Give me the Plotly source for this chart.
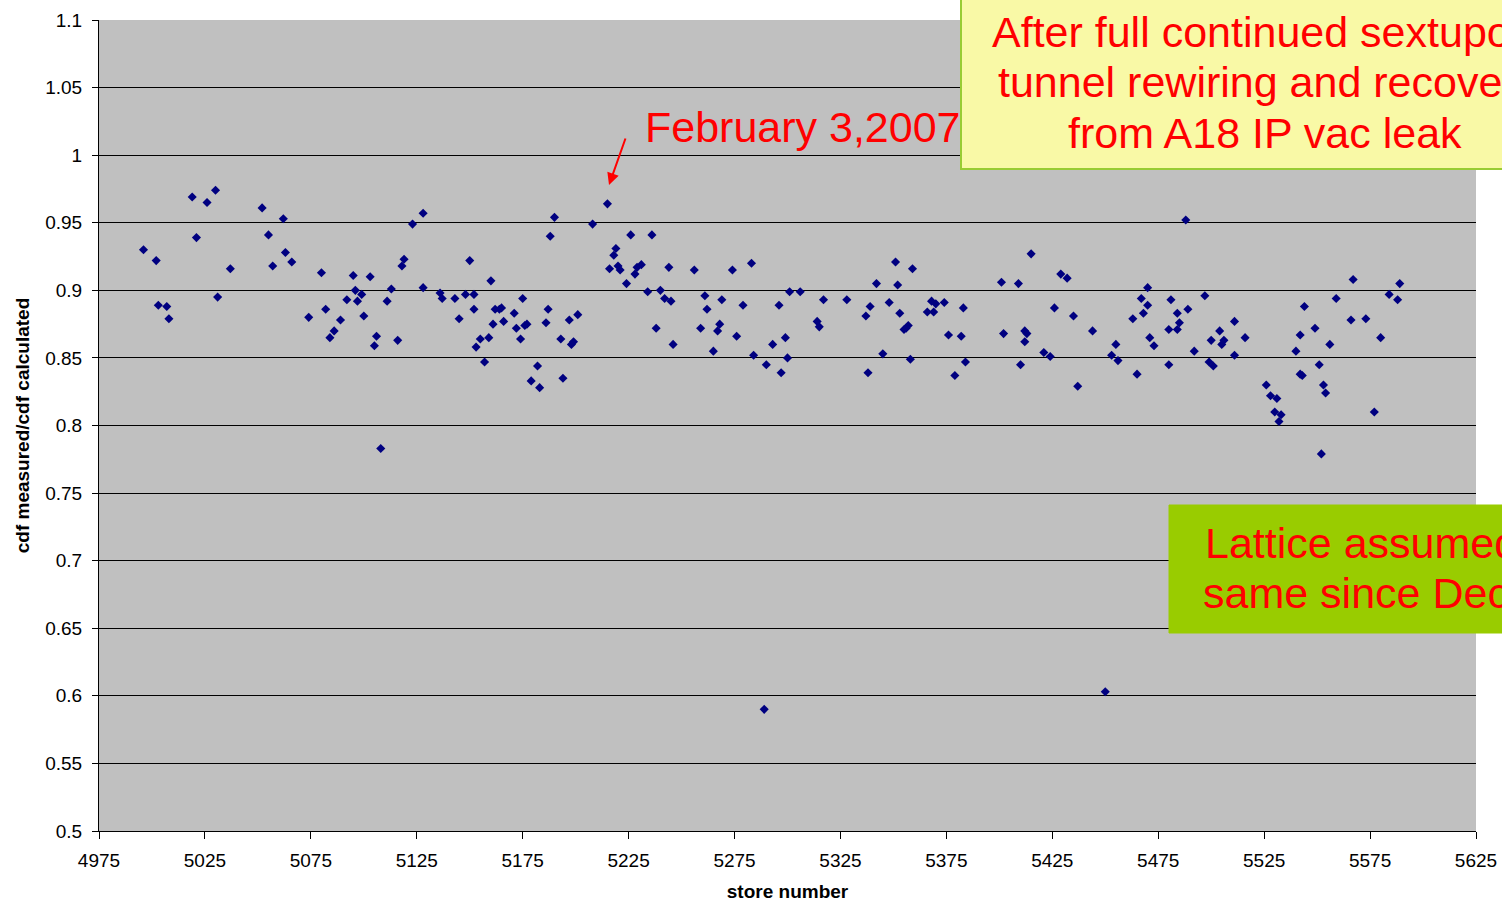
import plotly.graph_objects as go

# ---- data ----
store = [
    4996, 5002, 5003, 5007, 5008, 5019, 5021, 5026, 5030, 5031, 5037, 5052, 5055, 5057, 5062, 5063,
    5066, 5074, 5080, 5082, 5084, 5086, 5089, 5092,
    5095, 5096, 5097, 5099, 5100, 5103, 5105, 5106, 5108, 5111, 5113, 5116, 5118, 5119, 5123, 5128,
    5128, 5136, 5137, 5143, 5145, 5148, 5150, 5152, 5152, 5153, 5155, 5157, 5159, 5160, 5161, 5162,
    5164, 5165, 5166, 5171, 5172, 5174, 5175, 5176, 5177, 5179, 5182, 5183, 5186, 5187, 5188, 5190,
    5193, 5194, 5197, 5198, 5199, 5201, 5208, 5215, 5216, 5218, 5219, 5220, 5221, 5224, 5226, 5228,
    5229, 5231, 5234, 5236, 5238, 5240, 5242, 5244, 5245, 5246, 5256, 5259, 5261, 5262, 5265, 5267,
    5268, 5269, 5274, 5276, 5279, 5283, 5284, 5290, 5289,
    5293, 5296, 5297, 5299, 5300, 5301, 5306, 5314, 5315, 5317, 5328, 5337, 5338, 5339, 5342, 5345,
    5348, 5351, 5352, 5353, 5355, 5356, 5357, 5358, 5359, 5366, 5368, 5369, 5370, 5374, 5376, 5379,
    5382, 5383, 5384,
    5401, 5402, 5409, 5410, 5412, 5412, 5413, 5415, 5421, 5424, 5426, 5429, 5432, 5435, 5437, 5444,
    5450, 5453, 5455, 5456, 5463, 5465, 5467, 5468, 5470, 5470, 5471, 5473, 5480, 5480, 5481, 5484,
    5484, 5485, 5488, 5489,
    5492, 5497, 5499, 5500, 5501, 5504, 5505, 5506, 5511, 5511, 5516, 5526, 5528, 5531, 5530, 5533,
    5532, 5540, 5542, 5542, 5543, 5544, 5549, 5551, 5552, 5553, 5554, 5556, 5559, 5566, 5567, 5573,
    5577, 5580, 5584, 5588, 5589,
]
ratio = [
    0.930, 0.922, 0.889, 0.888, 0.879, 0.969, 0.939, 0.965, 0.974, 0.895, 0.916, 0.961, 0.941, 0.918, 0.953, 0.928,
    0.921, 0.880, 0.913, 0.886, 0.865, 0.870, 0.878, 0.893,
    0.911, 0.900, 0.892, 0.897, 0.881, 0.910, 0.859, 0.866, 0.783, 0.892, 0.901, 0.863, 0.918, 0.923, 0.949, 0.957,
    0.902, 0.898, 0.894, 0.894, 0.879, 0.897, 0.922, 0.897, 0.886, 0.858, 0.864, 0.847, 0.865, 0.907, 0.875, 0.886,
    0.886, 0.887, 0.877, 0.883, 0.872, 0.864, 0.894, 0.874, 0.875, 0.833, 0.844, 0.828, 0.876, 0.886, 0.940, 0.954,
    0.864, 0.835, 0.878, 0.860, 0.862, 0.882, 0.949, 0.964, 0.916, 0.926, 0.931, 0.918, 0.915, 0.905, 0.941, 0.912,
    0.917, 0.919, 0.899, 0.941, 0.872, 0.900, 0.894, 0.917, 0.892, 0.860, 0.915, 0.872, 0.896, 0.886, 0.855, 0.870,
    0.875, 0.893, 0.915, 0.866, 0.889, 0.920, 0.852, 0.845, 0.590,
    0.860, 0.889, 0.839, 0.865, 0.850, 0.899, 0.899, 0.877, 0.873, 0.893, 0.893, 0.881, 0.839, 0.888, 0.905, 0.853,
    0.891, 0.921, 0.904, 0.883, 0.871, 0.872, 0.874, 0.849, 0.916, 0.884, 0.892, 0.884, 0.890, 0.891, 0.867, 0.837,
    0.866, 0.887, 0.847,
    0.906, 0.868, 0.905, 0.845, 0.862, 0.870, 0.868, 0.927, 0.854, 0.851, 0.887, 0.912, 0.909, 0.881, 0.829, 0.870,
    0.603, 0.852, 0.860, 0.848, 0.879, 0.838, 0.894, 0.883, 0.902, 0.889, 0.865, 0.859, 0.845, 0.871, 0.893, 0.883,
    0.871, 0.876, 0.952, 0.886,
    0.855, 0.896, 0.847, 0.863, 0.844, 0.870, 0.860, 0.863, 0.877, 0.852, 0.865, 0.830, 0.822, 0.820, 0.810, 0.808,
    0.803, 0.855, 0.867, 0.838, 0.837, 0.888, 0.872, 0.845, 0.779, 0.830, 0.824, 0.860, 0.894, 0.878, 0.908, 0.879,
    0.810, 0.865, 0.897, 0.893, 0.905,
]
x_ticks = [4975, 5025, 5075, 5125, 5175, 5225, 5275, 5325, 5375, 5425, 5475, 5525, 5575, 5625]
y_ticks = [0.5, 0.55, 0.6, 0.65, 0.7, 0.75, 0.8, 0.85, 0.9, 0.95, 1.0, 1.05, 1.1]
y_tick_text = ["0.5", "0.55", "0.6", "0.65", "0.7", "0.75", "0.8", "0.85", "0.9", "0.95", "1", "1.05", "1.1"]
x_title = "store number"
y_title = "cdf measured/cdf calculated"
date_label = "February 3,2007"
yellow_lines = ["After full continued sextupole", "tunnel rewiring and recovery", "from A18 IP vac leak"]
green_lines = ["Lattice assumed", "same since Dec"]

# ---- layout geometry (screen pixels; body margin removed by post_script) ----
W, H = 1502, 902
L, R, T, B = 99, 1476, 20, 831
FONT = "Liberation Sans, Arial, sans-serif"


def px(xp):
    return (xp - L) / (R - L)


def py(yp):
    return (B - yp) / (B - T)


fig = go.Figure()
fig.add_trace(go.Scatter(
    x=store, y=ratio, mode="markers",
    marker=dict(symbol="diamond", size=7, color="#000080", line=dict(width=0)),
    showlegend=False,
))

shapes = [
    dict(type="rect", xref="paper", yref="paper", x0=px(961), x1=px(1620), y0=py(169), y1=py(-20),
         fillcolor="#F9F9A6", line=dict(color="#99CC33", width=2), layer="above"),
    dict(type="rect", xref="paper", yref="paper", x0=px(1169), x1=px(1620), y0=py(633), y1=py(505),
         fillcolor="#99CC00", line=dict(color="#99CC00", width=1), layer="above"),
]

red = "#FF0000"
annotations = [
    dict(xref="paper", yref="paper", x=px(643), y=py(127), xanchor="left", yanchor="middle",
         text=date_label, showarrow=False, font=dict(family=FONT, size=43, color=red)),
    dict(xref="paper", yref="paper", x=px(609), y=py(185), text="", showarrow=True,
         ax=17, ay=-48, arrowhead=2, arrowsize=1.2, arrowwidth=2, arrowcolor=red),
]
for xp, yp, t in zip([990, 996, 1066], [32, 82, 133], yellow_lines):
    annotations.append(dict(xref="paper", yref="paper", x=px(xp), y=py(yp), xanchor="left",
                            yanchor="middle", text=t, showarrow=False,
                            font=dict(family=FONT, size=43, color=red)))
for xp, yp, t in zip([1203, 1201], [543, 593], green_lines):
    annotations.append(dict(xref="paper", yref="paper", x=px(xp), y=py(yp), xanchor="left",
                            yanchor="middle", text=t, showarrow=False,
                            font=dict(family=FONT, size=43, color=red)))

fig.update_layout(
    width=W, height=H,
    margin=dict(l=L, r=W - R, t=T, b=H - B, pad=0),
    paper_bgcolor="white", plot_bgcolor="#C0C0C0",
    font=dict(family=FONT, size=19, color="black"),
    shapes=shapes, annotations=annotations,
    xaxis=dict(range=[4975, 5625], tickvals=x_ticks, ticks="outside", ticklen=7, tickcolor="black",
               showline=True, linecolor="black", linewidth=1, showgrid=False, zeroline=False,
               automargin=False, tickfont=dict(size=19), ticklabelstandoff=5,
               title=dict(text="<b>" + x_title + "</b>", font=dict(size=19), standoff=22)),
    yaxis=dict(range=[0.5, 1.1], tickvals=y_ticks, ticktext=y_tick_text, ticks="outside", ticklen=6,
               tickcolor="black", showline=True, linecolor="black", linewidth=1,
               showgrid=True, gridcolor="black", gridwidth=1, zeroline=False,
               automargin=False, tickfont=dict(size=19), ticklabelstandoff=6,
               title=dict(text="<b>" + y_title + "</b>", font=dict(size=19), standoff=10)),
)

fig.write_html("out.html", config={"displayModeBar": False},
               post_script="document.body.style.margin='0';document.body.style.overflow='hidden';")
